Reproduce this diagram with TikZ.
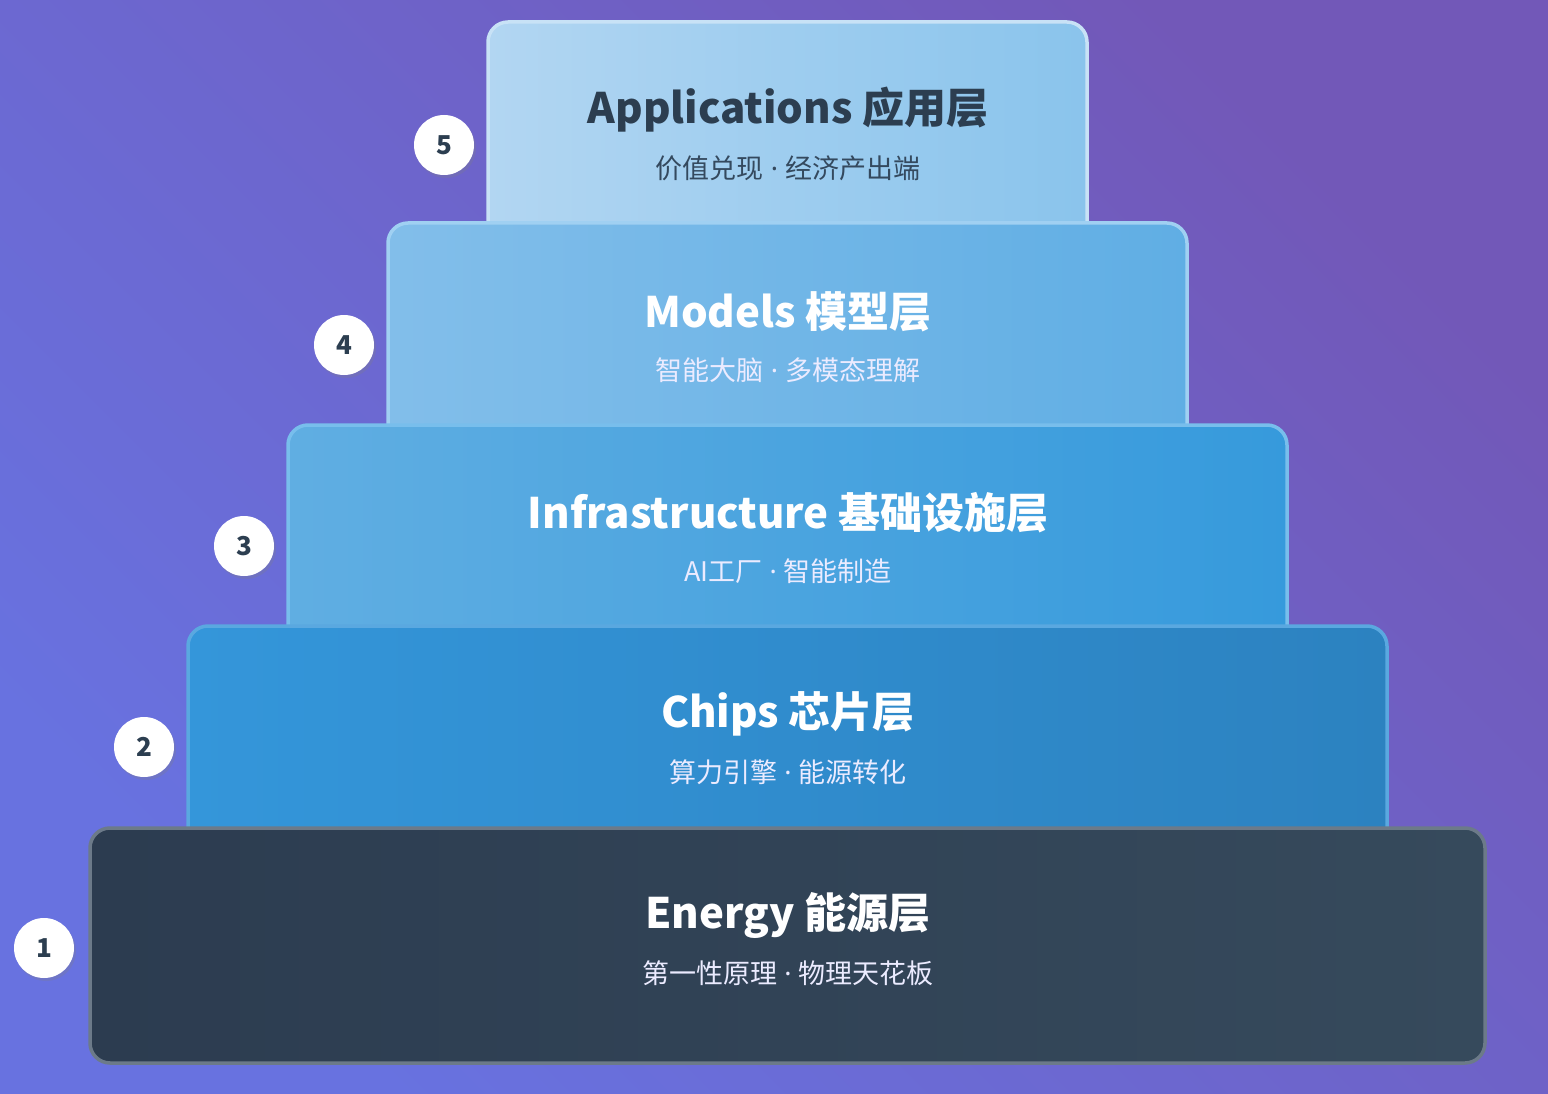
\documentclass[tikz,border=0pt]{standalone}
\usepackage{fontspec}
\setmainfont{Noto Sans CJK SC}
\newfontfamily\latf{Noto Sans}
\newcommand{\sepdot}{{\latf\ ·\ }}
\usetikzlibrary{shadows}
\definecolor{bgA}{HTML}{6872E0}
\definecolor{bgB}{HTML}{7258B8}
\definecolor{dark}{HTML}{2C3E50}
\tikzset{
  layer/.style={rounded corners=20pt, line width=3.5pt},
  num/.style={circle, fill=white, minimum size=60pt, inner sep=0pt, font=\fontsize{26}{30}\selectfont\bfseries, text=dark, drop shadow={opacity=0.25, shadow xshift=2pt, shadow yshift=-3pt}},
  ttl/.style={font=\fontsize{42}{48}\selectfont\bfseries},
  sub/.style={font=\fontsize{27}{31}\selectfont},
}
\begin{document}
\begin{tikzpicture}[x=1pt,y=-1pt]
\useasboundingbox (0,0) rectangle (1548,1094);
\shade[left color=bgA, right color=bgB, shading angle=135] (0,0) rectangle (1548,1094);
% layer 5
\shade[layer, left color={rgb,255:red,178;green,214;blue,242}, right color={rgb,255:red,138;green,196;blue,236}] (488,22) rectangle (1087,260);
\draw[layer, draw={rgb,255:red,200;green,226;blue,246}] (488,260) -- (488,22) -- (1087,22) -- (1087,260);
% layer 4
\shade[layer, left color={rgb,255:red,130;green,190;blue,234}, right color={rgb,255:red,96;green,174;blue,228}] (388,223) rectangle (1187,460);
\draw[layer, draw={rgb,255:red,160;green,208;blue,242}] (388,460) -- (388,223) -- (1187,223) -- (1187,460);
% layer 3
\shade[layer, left color={rgb,255:red,96;green,174;blue,226}, right color={rgb,255:red,54;green,154;blue,220}] (288,425) rectangle (1287,660);
\draw[layer, draw={rgb,255:red,120;green,190;blue,236}] (288,660) -- (288,425) -- (1287,425) -- (1287,660);
% layer 2
\shade[layer, left color={rgb,255:red,52;green,150;blue,218}, right color={rgb,255:red,44;green,130;blue,192}] (188,626) rectangle (1387,860);
\draw[layer, draw={rgb,255:red,90;green,168;blue,224}] (188,860) -- (188,626) -- (1387,626) -- (1387,860);
% layer 1
\shade[layer, left color={rgb,255:red,44;green,60;blue,80}, right color={rgb,255:red,54;green,74;blue,92}] (90,828) rectangle (1485,1063);
\draw[layer, draw={rgb,255:red,108;green,122;blue,137}] (90,828) rectangle (1485,1063);
% texts
\node[ttl, text=dark] (t5) at (788,110) {Applications 应用层};
\node[sub, text={rgb,255:red,52;green,73;blue,94}] (s5) at (788,168) {价值兑现\sepdot 经济产出端};
\node[ttl, text=white] (t4) at (788,312) {Models 模型层};
\node[sub, text=white!92!blue] (s4) at (788,370) {智能大脑\sepdot 多模态理解};
\node[ttl, text=white] (t3) at (788,513) {Infrastructure 基础设施层};
\node[sub, text=white!92!blue] (s3) at (788,571) {AI工厂\sepdot 智能制造};
\node[ttl, text=white] (t2) at (788,714) {Chips 芯片层};
\node[sub, text=white!92!blue] (s2) at (788,772) {算力引擎\sepdot 能源转化};
\node[ttl, text=white] (t1) at (788,915) {Energy 能源层};
\node[sub, text=white!92!blue] (s1) at (788,973) {第一性原理\sepdot 物理天花板};
% numbers
\node[num] (n1) at (44,948) {1};
\node[num] (n2) at (144,747) {2};
\node[num] (n3) at (244,546) {3};
\node[num] (n4) at (344,345) {4};
\node[num] (n5) at (444,145) {5};
\end{tikzpicture}
\end{document}
